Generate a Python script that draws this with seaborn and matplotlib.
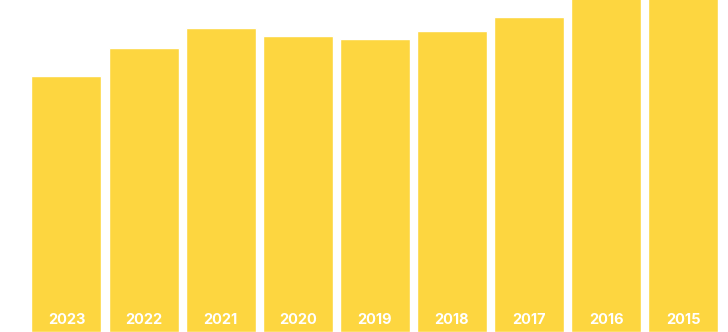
import matplotlib
matplotlib.use("Agg")
import matplotlib.pyplot as plt
import seaborn as sns
import pandas as pd

years = ["2023", "2022", "2021", "2020", "2019", "2018", "2017", "2016", "2015"]
values = [256, 284, 304, 296, 293, 301, 315, 340, 338]

df = pd.DataFrame({"year": years, "value": values})

sns.set_theme(style="white")
fig = plt.figure(figsize=(7.28, 3.32), dpi=100)
ax = fig.add_axes([0, 0, 1, 1])
sns.barplot(data=df, x="year", y="value", color="#FDD640", saturation=1,
            width=0.908, ax=ax)
ax.set_xlim(-0.862, 8.580)
ax.set_ylim(0, 332)
for i, y in enumerate(years):
    ax.text(i, 12.5, y, ha="center", va="center", color="white",
            fontsize=10.5, fontweight="bold", family=["Inter", "DejaVu Sans"])
ax.axis("off")
fig.savefig("out.png", dpi=100)
